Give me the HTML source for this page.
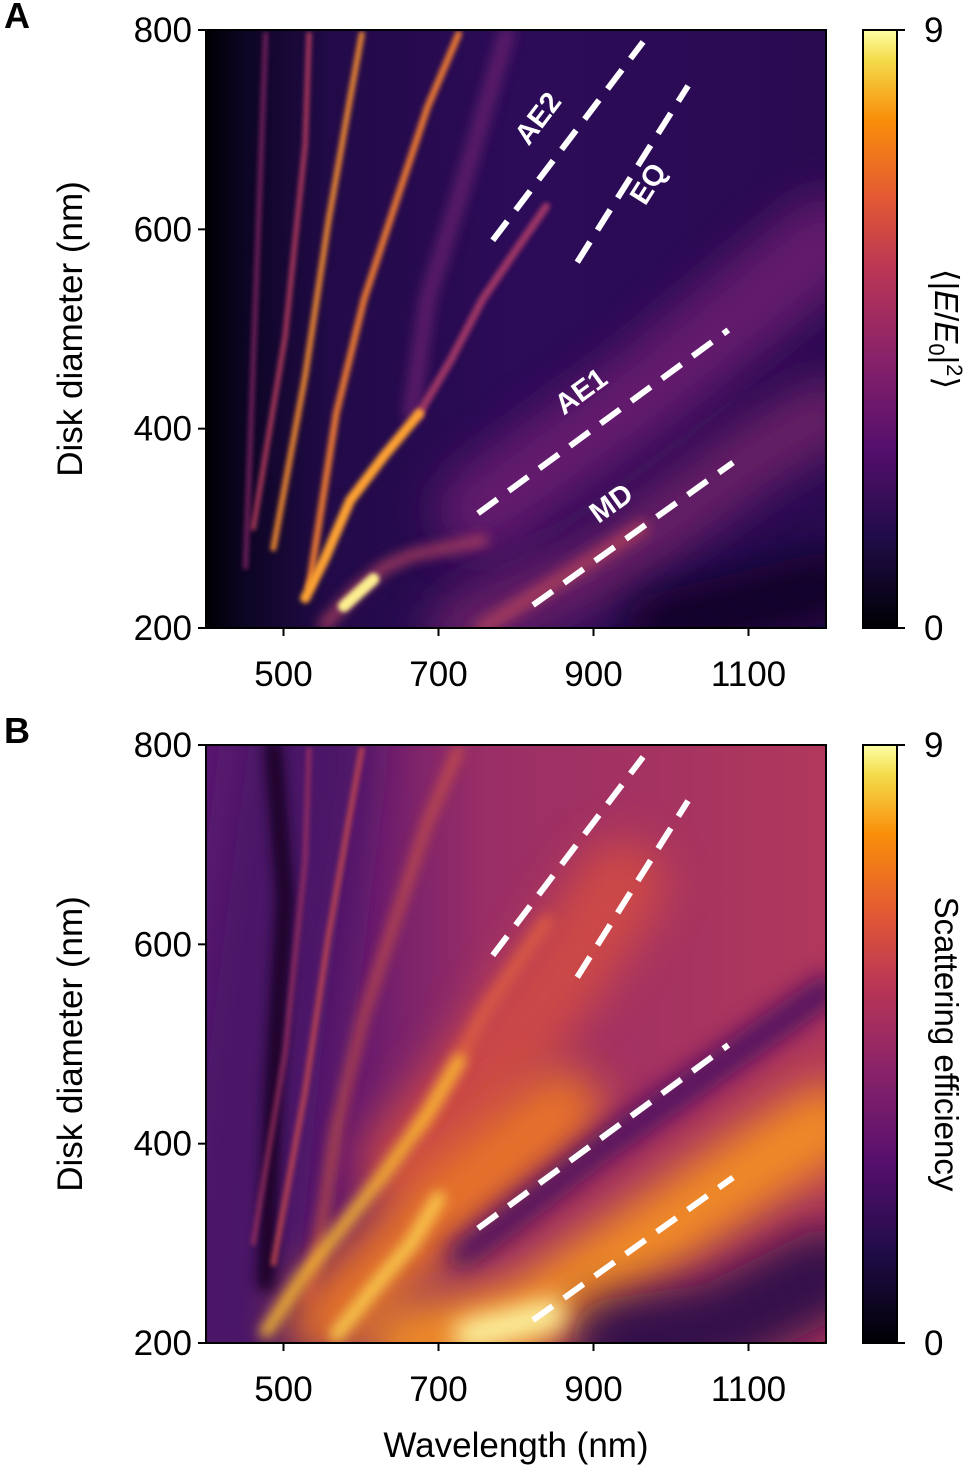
<!DOCTYPE html>
<html><head><meta charset="utf-8"><style>
body{margin:0;background:#fff;width:972px;height:1470px;overflow:hidden}
text{font-family:"Liberation Sans",Arial,sans-serif;fill:#000}
</style></head><body>
<svg id="fig" width="972" height="1470" xmlns="http://www.w3.org/2000/svg">
<defs>
<filter id="b3" filterUnits="userSpaceOnUse" x="0" y="0" width="972" height="1470"><feGaussianBlur stdDeviation="2.5"/></filter>
<filter id="b6" filterUnits="userSpaceOnUse" x="0" y="0" width="972" height="1470"><feGaussianBlur stdDeviation="6"/></filter>
<filter id="b12" filterUnits="userSpaceOnUse" x="0" y="0" width="972" height="1470"><feGaussianBlur stdDeviation="12"/></filter>
<filter id="b22" filterUnits="userSpaceOnUse" x="0" y="0" width="972" height="1470"><feGaussianBlur stdDeviation="22"/></filter>
<clipPath id="cA"><rect x="206" y="30" width="620" height="598"/></clipPath>
<clipPath id="cB"><rect x="206" y="745" width="620" height="598"/></clipPath>
<linearGradient id="cbar" x1="0" y1="1" x2="0" y2="0">
<stop offset="0" stop-color="#000004"/><stop offset="0.15" stop-color="#1f0c48"/><stop offset="0.3" stop-color="#550f6d"/><stop offset="0.45" stop-color="#88226a"/><stop offset="0.6" stop-color="#ba3655"/><stop offset="0.72" stop-color="#e35933"/><stop offset="0.85" stop-color="#f98e09"/><stop offset="0.95" stop-color="#f4db4b"/><stop offset="1" stop-color="#fcffa4"/></linearGradient>
<linearGradient id="bgA" x1="0" y1="0" x2="1" y2="0">
<stop offset="0" stop-color="#000004"/><stop offset="0.06" stop-color="#0c0522"/><stop offset="0.2" stop-color="#220a48"/><stop offset="0.5" stop-color="#2c0b58"/><stop offset="1" stop-color="#2a0b52"/></linearGradient>
<linearGradient id="bgB" x1="0" y1="0" x2="1" y2="0">
<stop offset="0" stop-color="#5a1870"/><stop offset="0.25" stop-color="#6a1c6e"/><stop offset="0.45" stop-color="#9a2e66"/><stop offset="1" stop-color="#b0385c"/></linearGradient>
</defs>
<g id="plots"></g>
</svg>
<script>
const NS="http://www.w3.org/2000/svg";
const xTicks=[500,700,900,1100];
const yTicks=[200,400,600,800];
const curveA=[[528,230],[553,269],[586,328],[630,373],[675,415]];
const curveAUpper=[[675,415],[716,469],[757,530],[798,577],[839,623]];
const curveB=[[533,242],[568,415],[604,530],[645,627],[686,723],[726,796]];
const curveC=[[487,280],[528,453],[558,608],[584,723],[601,796]];
const curveD=[[461,300],[502,492],[528,685],[533,796]];
const curveF=[[451,261],[477,796]];
const curveE=[[553,203],[594,238],[630,261],[665,273],[757,288]];
const faintArc=[[665,415],[686,530],[732,646],[788,796]];
const hotA=[[578,222],[616,249]];
const bandAE1=[[757,319],[961,434],[1200,588]];
const bandMD=[[732,199],[910,261],[1114,377],[1200,415]];
const coreMD=[[757,200],[961,300]];
const cornerDark=[[986,200],[1200,242]];
const cornerDarkB=[[930,200],[1060,215],[1200,270]];
const wideOrange=[[655,380],[757,470],[859,570],[935,660]];
const lowOrange=[[553,222],[706,338],[859,434]];
const mdBright=[[655,199],[808,222],[961,300],[1114,380],[1200,420]];
const hotB=[[740,208],[845,228]];
const darkAE1=[[732,288],[910,396],[1200,554]];
const leftPurple=[[441,222],[477,492],[527,796]];
const darkStreak=[[477,261],[487,453],[502,646],[487,796]];
const yellow1=[[477,211],[527,269],[578,319],[630,370],[686,430],[727,484]];
const yellow2=[[568,208],[614,253],[665,300],[700,345]];
const dashAE2=[[770,589],[964,788]];
const dashEQ=[[879,567],[1022,744]];
const dashAE1=[[751,315],[1074,499]];
const dashMD=[[822,223],[1080,366]];
const modeLabels=["AE2","EQ","AE1","MD"];
const root=document.getElementById('plots');
function el(t,a,p){const e=document.createElementNS(NS,t);for(const k in a)e.setAttribute(k,a[k]);(p||root).appendChild(e);return e;}
function mkX(){return v=>206+(v-400)*620/800;}
function mkY(top){return v=>top+598-(v-200)*598/600;}
function pts(arr,X,Y){return arr.map(p=>X(p[0])+','+Y(p[1])).join(' ');}
function panel(top,letter,clip,bg,cfg,cbLabel,showX){
  const X=mkX(),Y=mkY(top);
  const g=el('g',{'clip-path':'url(#'+clip+')'});
  
  
  el('rect',{x:206,y:top,width:620,height:598,fill:'url(#'+bg+')'},g);
  cfg.forEach(c=>{const l=el('polyline',{points:pts(c.d,X,Y),fill:'none',stroke:c.col,'stroke-width':c.w,'stroke-linecap':'round','stroke-linejoin':'round',filter:'url(#'+c.f+')',opacity:c.o},g);
    
    });
  [dashAE2,dashEQ,dashAE1,dashMD].forEach((d,i)=>{const l=el('line',{x1:X(d[0][0]),y1:Y(d[0][1]),x2:X(d[1][0]),y2:Y(d[1][1]),stroke:'#fff','stroke-width':6,'stroke-dasharray':'24,14'},g);
    
    });
  el('rect',{x:206,y:top,width:620,height:598,fill:'none',stroke:'#000','stroke-width':2});
  xTicks.forEach(v=>{el('line',{x1:X(v),x2:X(v),y1:top+598,y2:top+606,stroke:'#000','stroke-width':2});
    const t=el('text',{x:X(v),y:top+656,'font-size':35,'text-anchor':'middle'});t.textContent=v;
    });
  yTicks.forEach(v=>{el('line',{x1:198,x2:206,y1:Y(v),y2:Y(v),stroke:'#000','stroke-width':2});
    const t=el('text',{x:192,y:Y(v)+12,'font-size':35,'text-anchor':'end'});t.textContent=v;
    });
  const yl=el('text',{x:0,y:0,'font-size':35,'text-anchor':'middle',transform:'translate(82,'+(top+299)+') rotate(-90)'});yl.textContent='Disk diameter (nm)';
  
  const pl=el('text',{x:4,y:top-2,'font-size':36,'font-weight':'bold'});pl.textContent=letter;
  
  const cb=el('rect',{x:863,y:top,width:34,height:598,fill:'url(#cbar)',stroke:'#000','stroke-width':2});
  
  [[9,top],[0,top+598]].forEach(([v,y])=>{el('line',{x1:897,x2:905,y1:y,y2:y,stroke:'#000','stroke-width':2});
    const t=el('text',{x:924,y:y+12,'font-size':35});t.textContent=v;});
  const cl=el('text',{x:0,y:0,'font-size':33,'text-anchor':'middle',transform:'translate(935,'+(top+299)+') rotate(90)'});
  cl.innerHTML=cbLabel;
  if(showX){const xl=el('text',{x:516,y:top+712,'font-size':35,'text-anchor':'middle'});xl.textContent='Wavelength (nm)';
    }
  return {X,Y};
}
const A=panel(30,'A','cA','bgA',[
 {d:bandAE1,col:'#6a1a70',w:90,f:'b22',o:0.9,n:'band-ae1'},
 {d:bandMD,col:'#6e2068',w:70,f:'b22',o:0.9,n:'band-md'},
 {d:coreMD,col:'#b0405c',w:16,f:'b6',o:0.8,n:'core-md'},
 {d:cornerDark,col:'#0e0420',w:70,f:'b22',o:0.9,n:'corner-dark'},
 {d:curveE,col:'#b04060',w:12,f:'b6',o:0.85,n:'curve-e'},
 {d:faintArc,col:'#6a2070',w:16,f:'b6',o:0.8,n:'faint-arc'},
 {d:curveF,col:'#7a2060',w:5,f:'b3',o:0.9,n:'curve-f'},
 {d:curveD,col:'#c04060',w:5,f:'b3',o:0.9,n:'curve-d'},
 {d:curveC,col:'#f08a30',w:6,f:'b3',o:0.95,n:'curve-c'},
 {d:curveB,col:'#ee7a30',w:7,f:'b3',o:0.95,n:'curve-b'},
 {d:curveAUpper,col:'#a83a68',w:8,f:'b3',o:0.9,n:'curve-a-upper'},
 {d:curveA,col:'#fca030',w:10,f:'b3',o:1,n:'curve-a'},
 {d:hotA,col:'#fcef90',w:12,f:'b3',o:1,n:'hotspot'}
],'⟨|<tspan font-style="italic">E</tspan>/<tspan font-style="italic">E</tspan><tspan font-size="22" dy="6">0</tspan><tspan dy="-6">|</tspan><tspan font-size="22" dy="-12">2</tspan><tspan dy="12">⟩</tspan>',false);
const B=panel(745,'B','cB','bgB',[
 {d:leftPurple,col:'#4a1268',w:140,f:'b22',o:0.9,n:'left-purple'},
 {d:wideOrange,col:'#d85040',w:90,f:'b22',o:0.8,n:'upper-orange'},
 {d:lowOrange,col:'#f07a22',w:80,f:'b22',o:0.9,n:'lower-orange'},
 {d:darkAE1,col:'#4a1060',w:30,f:'b12',o:0.95,n:'dark-ae1-band'},
 {d:mdBright,col:'#f49020',w:80,f:'b22',o:0.95,n:'band-md'},
 {d:cornerDarkB,col:'#2a0a4a',w:90,f:'b22',o:0.95,n:'corner-dark'},
 {d:hotB,col:'#fcf4a0',w:32,f:'b12',o:1,n:'hotspot'},
 {d:darkStreak,col:'#120420',w:18,f:'b6',o:0.9,n:'dark-streak'},
 {d:curveD,col:'#a03060',w:5,f:'b3',o:0.8,n:'curve-d'},
 {d:curveC,col:'#c84a50',w:6,f:'b3',o:0.8,n:'curve-c'},
 {d:curveB,col:'#e0603a',w:8,f:'b6',o:0.8,n:'curve-b'},
 {d:curveAUpper,col:'#e06040',w:14,f:'b6',o:0.8,n:'curve-a-upper'},
 {d:yellow1,col:'#fbbf30',w:12,f:'b6',o:0.95,n:'ridge-yellow-1'},
 {d:yellow2,col:'#fcd050',w:14,f:'b6',o:0.9,n:'ridge-yellow-2'}
],'Scattering efficiency',true);
const labelPos=[[dashAE2,-1,'AE2'],[dashEQ,1,'EQ'],[dashAE1,-1,'AE1'],[dashMD,-1,'MD']];
labelPos.forEach(([d,s,n])=>{const mx=(d[0][0]+d[1][0])/2,my=(d[0][1]+d[1][1])/2;
  const px=A.X(mx),py=A.Y(my);const ang=Math.atan2(A.Y(d[1][1])-A.Y(d[0][1]),A.X(d[1][0])-A.X(d[0][0]))*180/Math.PI;
  const t=el('text',{x:0,y:0,'font-size':29,'font-weight':'bold','text-anchor':'middle',transform:'translate('+(px+s*28*Math.sin(-ang*Math.PI/180))+','+(py+s*28*Math.cos(ang*Math.PI/180))+') rotate('+ang+')'});
  t.style.fill='#fff';t.textContent=n;
  
  });
</script>
</body></html>
